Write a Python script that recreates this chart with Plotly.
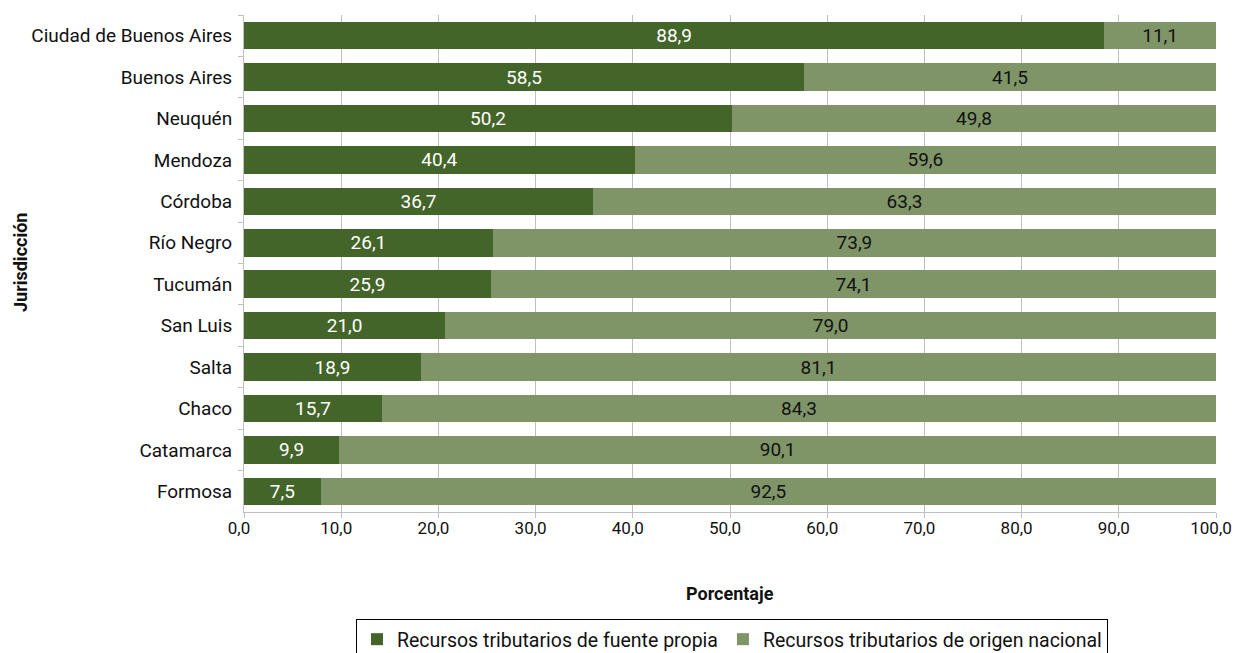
import plotly.graph_objects as go

jurisdicciones = ["Ciudad de Buenos Aires", "Buenos Aires", "Neuquén", "Mendoza", "Córdoba",
                  "Río Negro", "Tucumán", "San Luis", "Salta", "Chaco", "Catamarca", "Formosa"]
# bar lengths
propia_barras = [88.5, 57.6, 50.2, 40.2, 35.9, 25.6, 25.4, 20.7, 18.2, 14.2, 9.8, 7.9]
nacional_barras = [11.5, 42.4, 49.8, 59.8, 64.1, 74.4, 74.6, 79.3, 81.8, 85.8, 90.2, 92.1]
# data labels printed on the bars
propia_etiquetas = ["88,9", "58,5", "50,2", "40,4", "36,7", "26,1", "25,9", "21,0", "18,9", "15,7", "9,9", "7,5"]
nacional_etiquetas = ["11,1", "41,5", "49,8", "59,6", "63,3", "73,9", "74,1", "79,0", "81,1", "84,3", "90,1", "92,5"]
x_ticks = [0, 10, 20, 30, 40, 50, 60, 70, 80, 90, 100]
x_ticktext = ["0,0", "10,0", "20,0", "30,0", "40,0", "50,0", "60,0", "70,0", "80,0", "90,0", "100,0"]

FONT = "Roboto, Liberation Sans, sans-serif"
FS = 19
DARK = "#44652A"
LIGHT = "#7F9568"

# the page body adds an 8px offset; work in page pixels and convert
OFF = 8
W, H = 1241 - OFF, 653 - OFF
PL, PR, PT, PB = 244, 1216, 15, 512          # plot area in page pixels
ML, MR, MT, MB = PL - OFF, W - (PR - OFF), PT - OFF, H - (PB - OFF)
PW, PH = W - ML - MR, H - MT - MB


def px(xp):
    return (xp - PL) / PW


def py(yp):
    return (PB - yp) / PH


fig = go.Figure()
fig.add_trace(go.Bar(
    y=jurisdicciones, x=propia_barras, orientation="h",
    name="Recursos tributarios de fuente propia",
    marker=dict(color=DARK, line=dict(width=0)),
    text=propia_etiquetas, textposition="inside", insidetextanchor="middle",
    textfont=dict(color="white", size=FS, family=FONT), textangle=0,
    constraintext="none", hoverinfo="skip",
))
fig.add_trace(go.Bar(
    y=jurisdicciones, x=nacional_barras, orientation="h",
    name="Recursos tributarios de origen nacional",
    marker=dict(color=LIGHT, line=dict(width=0)),
    text=nacional_etiquetas, textposition="inside", insidetextanchor="middle",
    textfont=dict(color="#111111", size=FS, family=FONT), textangle=0,
    constraintext="none", hoverinfo="skip",
))

fig.update_layout(
    barmode="stack",
    bargap=0.335,
    width=W, height=H,
    margin=dict(l=ML, r=MR, t=MT, b=MB, autoexpand=False),
    plot_bgcolor="white", paper_bgcolor="white",
    font=dict(family=FONT, size=FS, color="#111111"),
    showlegend=True,
    legend=dict(
        orientation="h", xref="paper", x=px(732), xanchor="center",
        yref="paper", y=py(619), yanchor="top",
        bordercolor="#000000", borderwidth=1,
        font=dict(size=19.5, family=FONT, color="#111111"),
        traceorder="normal", itemwidth=30,
    ),
    xaxis=dict(
        range=[0, 100], tickvals=x_ticks, ticktext=x_ticktext,
        showgrid=True, gridcolor="#BFBFBF", gridwidth=1,
        showline=True, linecolor="#BFBFBF", linewidth=1,
        ticks="outside", tickcolor="#BFBFBF", ticklen=5,
        tickfont=dict(size=17, family=FONT, color="#111111"),
        zeroline=False, automargin=False, ticklabelstandoff=-4,
        ticklabelshift=-5,
    ),
    yaxis=dict(
        categoryorder="array", categoryarray=jurisdicciones, autorange="reversed",
        showline=True, linecolor="#BFBFBF", linewidth=1,
        ticks="outside", tickson="boundaries", tickcolor="#BFBFBF", ticklen=5,
        tickfont=dict(size=FS, family=FONT, color="#111111"),
        showgrid=False, ticklabelstandoff=7, automargin=False,
    ),
    annotations=[
        dict(text="<b>Porcentaje</b>", xref="paper", yref="paper",
             x=px(730), y=py(593),
             xanchor="center", yanchor="middle", showarrow=False,
             font=dict(size=18, family=FONT, color="#111111")),
        dict(text="<b>Jurisdicción</b>", xref="paper", yref="paper",
             x=px(20), y=py(263),
             xanchor="center", yanchor="middle", textangle=-90, showarrow=False,
             font=dict(size=18, family=FONT, color="#111111")),
    ],
)

fig.write_html("out.html")
